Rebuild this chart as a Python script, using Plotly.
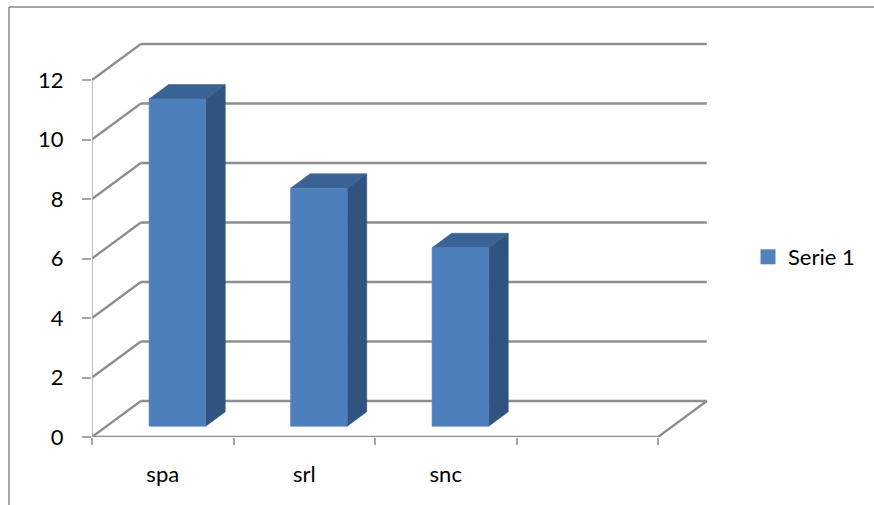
import plotly.graph_objects as go

# ---- data ----
categories = ["spa", "srl", "snc", ""]
values = [11, 8, 6, None]
series_name = "Serie 1"
y_ticks = [0, 2, 4, 6, 8, 10, 12]

# ---- 3D projection parameters (in axis units) ----
DX = 0.345   # depth shift along x (category units)
DY = 1.21    # depth shift along y (value units)
Z0, Z1 = 0.3, 0.7   # bar depth extent
HALF = 0.2          # half bar width
N = len(categories)
YMAX = max(y_ticks)

def P(x, y, z):
    return x + z * DX, y + z * DY

def add_pt(xs, ys, pts):
    for p in pts:
        xs.append(p[0]); ys.append(p[1])
    xs.append(None); ys.append(None)

fig = go.Figure()

# grid / walls
gx, gy = [], []
for v in y_ticks:
    add_pt(gx, gy, [P(0, v, 1), P(N, v, 1)])
    add_pt(gx, gy, [P(0, v, 0), P(0, v, 1)])
add_pt(gx, gy, [P(N, 0, 0), P(N, 0, 1)])
add_pt(gx, gy, [P(0, 0, 0), P(N, 0, 0)])
fig.add_trace(go.Scatter(x=gx, y=gy, mode="lines",
                         line=dict(color="#8e8e8e", width=2.3),
                         hoverinfo="skip", showlegend=False))
# y axis line (front)
ax, ay = [], []
add_pt(ax, ay, [P(0, 0, 0), P(0, YMAX, 0)])
fig.add_trace(go.Scatter(x=ax, y=ay, mode="lines",
                         line=dict(color="#a6a6a6", width=1.5),
                         hoverinfo="skip", showlegend=False))

# bars
fx, fy, sx, sy, tx, ty = [], [], [], [], [], []
for i, v in enumerate(values):
    if v is None:
        continue
    c = i + 0.5
    add_pt(fx, fy, [P(c - HALF, 0, Z0), P(c + HALF, 0, Z0), P(c + HALF, v, Z0), P(c - HALF, v, Z0), P(c - HALF, 0, Z0)])
    add_pt(sx, sy, [P(c + HALF, 0, Z0), P(c + HALF, 0, Z1), P(c + HALF, v, Z1), P(c + HALF, v, Z0), P(c + HALF, 0, Z0)])
    add_pt(tx, ty, [P(c - HALF, v, Z0), P(c + HALF, v, Z0), P(c + HALF, v, Z1), P(c - HALF, v, Z1), P(c - HALF, v, Z0)])

for xs, ys, col in [(sx, sy, "#30537f"), (tx, ty, "#3a6293"), (fx, fy, "#4d7fbd")]:
    fig.add_trace(go.Scatter(x=xs, y=ys, mode="lines", fill="toself", fillcolor=col,
                             line=dict(color=col, width=0.6),
                             hoverinfo="skip", showlegend=False))

# legend entry
fig.add_trace(go.Scatter(x=[None], y=[None], mode="markers", name=series_name,
                         marker=dict(symbol="square", size=15, color="#4f81bd"),
                         showlegend=True))

W, H = 874, 505
x_left = 92
x_unit = 141.5
y_bottom = 437
y_unit = 29.75
XR = N + 0.36
YR = YMAX + 1.3

fig.update_layout(
    width=W, height=H,
    margin=dict(l=0, r=0, t=0, b=0),
    paper_bgcolor="white", plot_bgcolor="rgba(0,0,0,0)",
    font=dict(family="Lato, sans-serif", size=22, color="#000000"),
    xaxis=dict(
        domain=[x_left / W, (x_left + XR * x_unit) / W],
        range=[0, XR], showgrid=False, zeroline=False, showline=False,
        tickmode="array",
        tickvals=[i + 0.5 for i in range(N)], ticktext=categories,
        ticks="", ticklabelstandoff=22, automargin=False,
        minor=dict(tickmode="array", tickvals=list(range(N + 1)),
                   ticks="outside", ticklen=7, tickwidth=1.5, tickcolor="#a6a6a6"),
        fixedrange=True,
    ),
    yaxis=dict(
        domain=[1 - y_bottom / H, 1 - (y_bottom - YR * y_unit) / H],
        range=[0, YR], showgrid=False, zeroline=False, showline=False,
        tickmode="array", tickvals=y_ticks,
        ticks="outside", ticklen=9, tickwidth=1.5, tickcolor="#a6a6a6",
        ticklabelstandoff=14, automargin=False, fixedrange=True,
    ),
    legend=dict(x=748 / W, y=1 - 257 / H, xanchor="left", yanchor="middle",
                font=dict(size=22, family="Lato, sans-serif"),
                bgcolor="rgba(0,0,0,0)"),
    shapes=[dict(type="line", xref="paper", yref="paper",
                 x0=9 / W, y0=0, x1=9 / W, y1=1 - 7 / H,
                 line=dict(color="#8a8a8a", width=1.5)),
            dict(type="line", xref="paper", yref="paper",
                 x0=9 / W, y0=1 - 7 / H, x1=1, y1=1 - 7 / H,
                 line=dict(color="#8a8a8a", width=1.5))],
)

fig.write_html("out.html")
